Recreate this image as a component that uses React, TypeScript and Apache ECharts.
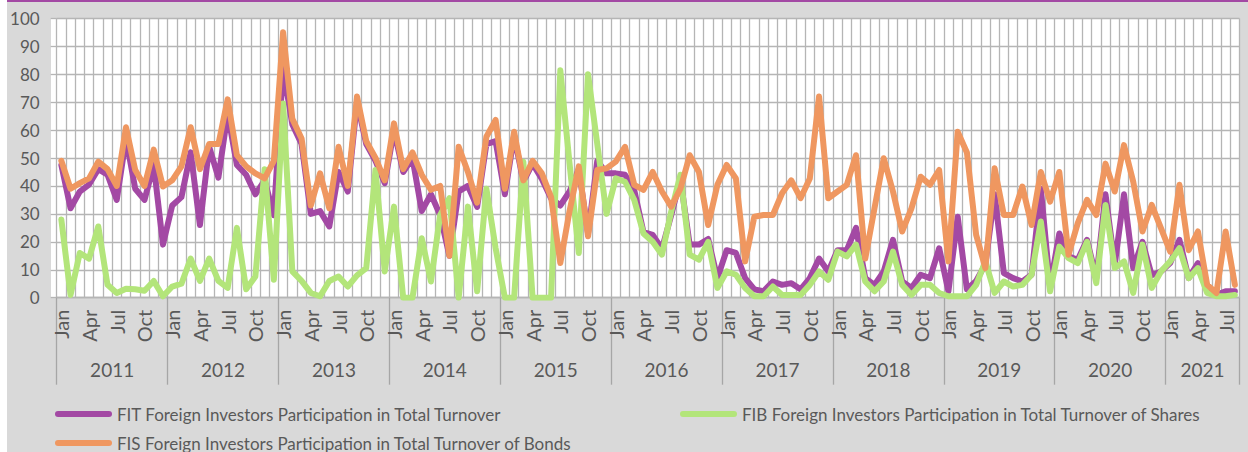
import React, { useEffect, useRef } from "react";
import * as echarts from "echarts";

const YEARS = ["2011", "2012", "2013", "2014", "2015", "2016", "2017", "2018", "2019", "2020", "2021"];
const MONTHS = ["Jan", "Feb", "Mar", "Apr", "May", "Jun", "Jul", "Aug", "Sep", "Oct", "Nov", "Dec"];
const MONTHS_IN_YEAR = [12, 12, 12, 12, 12, 12, 12, 12, 12, 12, 8];
const SHOWN_MONTHS = ["Jan", "Apr", "Jul", "Oct"];

const SERIES_NAMES = [
  "FIT Foreign Investors Participation in Total Turnover",
  "FIB Foreign Investors Participation in Total Turnover of Shares",
  "FIS Foreign Investors Participation in Total Turnover of Bonds",
];

// FIT
const FIT = [
  47.5, 32, 38, 40.5, 46, 44, 35, 57, 39, 35, 47.5, 19,
  33, 36, 52, 26, 54, 43, 66, 47.5, 44, 37, 42, 29.5,
  82, 62, 55, 30, 31, 25.5, 45, 38, 70, 55, 49, 41,
  60, 45, 50, 31, 37, 29.5, 15, 38, 40, 32.5, 55, 56,
  37, 58, 41.5, 48, 42.5, 35.5, 33, 38, 46, 23, 49, 44.5,
  44.5, 44, 38.5, 23.5, 22.5, 17.5, 29.5, 42.5, 19, 19, 21, 7,
  17, 16, 7, 3, 2.3, 5.8, 4.6, 5.2, 3, 7, 14, 9.4,
  17, 17, 25, 7, 4.6, 9.4, 20.7, 5.8, 3.5, 8.2, 7, 17.7,
  2.3, 29, 3, 6, 12, 37, 8.8, 7, 5.8, 8.2, 39, 4,
  23, 14.8, 13.6, 20.7, 7, 37, 11.8, 37, 10.6, 20, 8, 9.4,
  12.4, 20.7, 7, 12.4, 3.5, 1, 2.3, 2.3,
];

// FIB
const FIB = [
  28, 1, 16, 14, 25.5, 4.6, 1.7, 3.2, 3, 2.5, 6, 0.5,
  4, 5, 14, 6, 14, 6, 3.5, 25, 3, 7.6, 46, 6.4,
  69.5, 9.4, 6, 1.7, 0.5, 6, 7.6, 4, 8, 10.6, 45.7, 9.4,
  32.6, 0, 0, 21.3, 5.8, 29.6, 35.6, 0, 32.6, 2.3, 39, 17.7,
  0, 0, 48.7, 0, 0, 0, 81.4, 48, 16, 80, 55, 30,
  42.7, 41.5, 35, 23, 20, 15.4, 30.8, 44, 15.4, 13.6, 20, 3.5,
  9.4, 8.2, 3.5, 0.5, 0.5, 4, 1, 1, 1, 4.6, 9.4, 6.4,
  16.5, 14.8, 19, 5.8, 2.3, 5.8, 16.5, 4.6, 1, 4.6, 4.6, 1.7,
  0.5, 0.5, 0.5, 4.6, 13, 1.7, 5.8, 4, 4.6, 8.2, 27.3, 2.3,
  18.3, 14.2, 12.4, 20, 5.2, 33.2, 10.6, 13, 1.7, 19, 3.5, 9.4,
  13, 17.7, 7, 10.6, 1.7, 0.5, 0.5, 1,
];

// FIS
const FIS = [
  49, 39, 41, 42.7, 48.7, 46, 40, 61, 45.7, 40, 53, 39.8,
  42, 47, 61, 46, 55, 55, 71, 51, 47, 44.5, 42.7, 49,
  95, 64, 57, 33, 44.5, 32, 54, 40, 72, 56, 50, 42,
  62.4, 46, 52, 44, 38.6, 40, 15, 54, 45, 34, 57.6, 63.6,
  39, 59.4, 42, 49, 44.5, 36, 12.4, 31, 47, 22, 45.7, 46.3,
  48.7, 54, 40.4, 38.6, 45, 38, 32.6, 39, 51, 45, 26, 40.4,
  47.5, 42.7, 13, 29, 29.6, 29.6, 37.4, 42, 35.6, 42.7, 72, 35.6,
  38, 40.4, 51, 14, 32, 49.9, 38, 23.7, 32, 43.3, 40.4, 45.7,
  13, 59.4, 52, 22.5, 10.6, 46.3, 29.6, 29.6, 39.8, 26, 45, 34.4,
  45, 15.4, 26.7, 35, 29.6, 48, 38, 54.6, 41.5, 23.7, 33.2, 24.9,
  16.5, 40.4, 17, 23.7, 4.6, 1.7, 23.7, 4.6,
];

const COLORS = ["#A349A4", "#B3E57A", "#EF9760"];

const W = 1248;
const H = 452;
const FONT = "Lato, 'Liberation Sans', sans-serif";
const TEXT = "#595959";
const GRID = "#b5b5b5";

export default function App() {
  const ref = useRef<HTMLDivElement>(null);

  useEffect(() => {
    if (!ref.current) return;
    const chart = echarts.init(ref.current, undefined, { renderer: "svg", width: W, height: H });

    const categories: string[] = [];
    const yearStarts: number[] = [];
    const yearMids: number[] = [];
    YEARS.forEach((y, yi) => {
      const n = MONTHS_IN_YEAR[yi];
      yearStarts.push(categories.length);
      yearMids.push(categories.length + Math.floor(n / 2));
      for (let m = 0; m < n; m++) categories.push(MONTHS[m] + " " + y);
    });

    const gridLeft = 56.7;
    const gridRight = 8.5;
    const band = (W - gridLeft - gridRight) / categories.length;

    const icon = "path://M3,0 L54,0 A3,3 0 0 1 54,6 L3,6 A3,3 0 0 1 3,0 Z";
    const legendBase = {
      orient: "horizontal",
      padding: 0,
      itemWidth: 57,
      itemHeight: 6,
      icon,
      selectedMode: false,
      textStyle: { color: TEXT, fontSize: 17, fontFamily: FONT, lineHeight: 18 },
    };

    chart.setOption({
      animation: false,
      textStyle: { fontFamily: FONT },
      grid: { left: gridLeft, right: gridRight, top: 18.3, bottom: H - 297.7, containLabel: false },
      legend: [
        { ...legendBase, data: [SERIES_NAMES[0]], left: 55, top: 405 },
        { ...legendBase, data: [SERIES_NAMES[1]], left: 680, top: 405 },
        { ...legendBase, data: [SERIES_NAMES[2]], left: 55, top: 434 },
      ],
      xAxis: [
        {
          type: "category",
          data: categories,
          boundaryGap: true,
          position: "bottom",
          axisLine: { show: true, lineStyle: { color: GRID, width: 1.3 } },
          axisTick: { show: false },
          splitLine: { show: true, interval: 0, lineStyle: { color: GRID, width: 1.3 } },
          axisLabel: {
            interval: (i: number) => SHOWN_MONTHS.indexOf(categories[i].split(" ")[0]) >= 0,
            formatter: (v: string) => v.split(" ")[0],
            rotate: 90,
            margin: 12,
            color: TEXT,
            fontSize: 20,
            fontFamily: FONT,
          },
        },
        {
          type: "category",
          data: categories,
          boundaryGap: true,
          position: "bottom",
          axisLine: { show: false },
          splitLine: { show: false },
          axisTick: {
            show: true,
            interval: (i: number) => yearStarts.indexOf(i) >= 0,
            length: 87,
            lineStyle: { color: "#a6a6a6", width: 1.3 },
          },
          axisLabel: {
            interval: (i: number) => yearMids.indexOf(i) >= 0,
            formatter: (v: string) => v.split(" ")[1],
            margin: 62,
            padding: [0, band, 0, 0],
            color: TEXT,
            fontSize: 19,
            fontFamily: FONT,
          },
        },
      ],
      yAxis: {
        type: "value",
        min: 0,
        max: 100,
        interval: 10,
        axisLine: { show: false },
        axisTick: { show: true, length: 6, lineStyle: { color: GRID, width: 1.3 } },
        splitLine: { show: true, lineStyle: { color: GRID, width: 1.3 } },
        axisLabel: { margin: 17, color: TEXT, fontSize: 17, fontFamily: FONT },
      },
      series: [FIT, FIB, FIS].map((d, i) => ({
        name: SERIES_NAMES[i],
        type: "line",
        data: d,
        xAxisIndex: 0,
        yAxisIndex: 0,
        symbol: "none",
        showSymbol: false,
        smooth: false,
        color: COLORS[i],
        lineStyle: { width: 6, color: COLORS[i], cap: "round", join: "round" },
      })),
    });

    return () => chart.dispose();
  }, []);

  return (
    <div style={{ position: "fixed", left: 0, top: 0, width: W, height: H, background: "#ffffff", overflow: "hidden" }}>
      <div
        style={{
          position: "absolute",
          left: 7,
          top: 0,
          width: W - 7,
          height: H,
          background: "#d9d9d9",
          borderTop: "2px solid #A349A4",
          boxSizing: "border-box",
        }}
      />
      <div style={{ position: "absolute", left: 51, top: 18.3, width: 1188.5, height: 279.4, background: "#ffffff" }} />
      <div ref={ref} style={{ position: "absolute", left: 0, top: 0, width: W, height: H }} />
    </div>
  );
}
